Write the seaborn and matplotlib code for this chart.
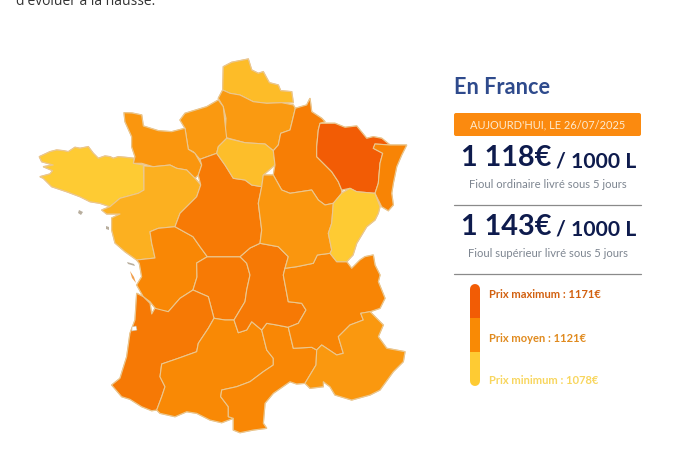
import matplotlib
matplotlib.use("Agg")
import matplotlib.pyplot as plt
import seaborn as sns
from matplotlib.colors import LinearSegmentedColormap, Normalize
from matplotlib.patches import FancyBboxPatch

# prix estimes par region (couleur de la carte)
prix_min, prix_moyen, prix_max = 1078, 1121, 1171
regions = {
    "Nord": 1088, "Picardie": 1110, "Haute-Normandie": 1111, "Basse-Normandie": 1113,
    "Bretagne": 1078, "Pays de la Loire": 1096, "Poitou-Charentes": 1124, "Limousin": 1138,
    "Aquitaine": 1140, "Midi-Pyrenees": 1122, "Languedoc": 1124, "Auvergne": 1140,
    "Rhone-Alpes": 1126, "PACA": 1112, "Centre": 1138, "Ile-de-France": 1087,
    "Champagne": 1134, "Lorraine": 1171, "Alsace": 1128, "Bourgogne": 1113, "Franche-Comte": 1078,
}

contours = {
    "Nord": [(222.7,90),(223.3,66.7),(231.7,62.3),(248.3,59),(251.7,70),(258.3,73.3),(263.3,71.7),(269.3,82.7),(278.3,85),(280.7,90.7),(291.7,91.7),(293.3,102.7),(281.7,102.7),(266.7,103.3),(253.3,101.7),(240,95),(230,93.3)],
    "Picardie": [(222.7,90),(230,93.3),(240,95),(253.3,101.7),(266.7,103.3),(281.7,102.7),(293.3,105),(295.3,108.3),(291.7,123.3),(290,130),(280.7,133.3),(278.3,145),(273.3,150.7),(265,144),(245,142.7),(225,137.3),(226,118.3),(223.3,106.7),(218.3,98.3)],
    "Haute-Normandie": [(180,120),(185,113.3),(206.7,106.7),(218.3,100),(223.3,106.7),(225,123.3),(226.7,138.3),(218.3,146.7),(216.7,153.3),(200,159.3),(193.3,151.7),(188.3,149.3),(185,128.3)],
    "Basse-Normandie": [(124,112.7),(132,113),(141.7,115),(143.3,126),(158.3,130.7),(171.7,131.7),(185,128.3),(188.3,149.3),(195,153.3),(201.7,165),(198.3,175),(195,178.3),(186.7,170),(176.7,168.3),(170,165),(153.3,166.7),(141.7,163.3),(133.3,163.3),(135,156.7),(131.7,146.7),(131.7,136.7),(125,121.7)],
    "Bretagne": [(39.3,156.7),(50,151.7),(56.7,150),(63.3,150.7),(68.3,151.7),(75,147.3),(80,148.3),(88.3,146.7),(93.3,153.3),(98.3,158.3),(105,156),(110,156.7),(113.3,158.3),(118.3,156.7),(125,157.3),(134,158.3),(133.3,163.3),(143.3,165),(144,190),(138.3,193.3),(120,198.3),(110,206.7),(100,203.3),(90,201.7),(80,196.7),(66.7,191.7),(51.7,186.7),(43.3,178.3),(40,176.7),(50,174),(52.7,170.7),(43.3,166.7),(53.3,165),(41.7,161.7)],
    "Pays de la Loire": [(144,166),(153.3,166.7),(170,165),(176.7,168.3),(186.7,170),(195,178.3),(200.7,185),(196.7,196.7),(180,213.3),(175,226.7),(158.3,228.3),(150,231.7),(151.7,243.3),(153.3,250),(155,258),(136.7,260),(125,251.7),(115,243),(111.7,230),(111.7,218),(120,214),(106.7,214),(101.7,210),(110,206.7),(120,198.3),(138.3,193.3),(144,190)],
    "Poitou-Charentes": [(150,231.7),(158.3,228.3),(175,226.7),(193,236.7),(200,246.7),(207.3,256.7),(196.7,263),(197,277),(193,290),(180,298.3),(168.3,311.7),(156.7,310),(150,301.7),(143.3,296.7),(136.7,285),(141.7,276.7),(139.3,263.3),(136.7,260),(155,258),(153.3,250),(151.7,243.3)],
    "Limousin": [(196.7,263),(207.3,256.7),(240,256.7),(246.7,263.3),(250,275),(246.7,290),(245,301.7),(234,320),(225,320),(214,318.3),(208.3,296.7),(193,290),(197,277)],
    "Aquitaine": [(136.7,293.3),(143.3,296.7),(150,303.3),(151.7,314),(155,308.3),(168.3,311.7),(180,298.3),(193,290),(208.3,296.7),(214,318.3),(208.3,328.3),(198.3,343.3),(196.7,351.7),(178.3,358.3),(161.7,364),(160,376.7),(165,386.7),(161.7,396.7),(156.7,410),(151.7,410.7),(141.7,406.7),(130,399.3),(121.7,396.7),(111.7,385),(120,378.3),(126.7,356.7),(130,333.3),(135,320)],
    "Midi-Pyrenees": [(161.7,364),(178.3,358.3),(196.7,351.7),(198.3,343.3),(208.3,328.3),(214,318.3),(225,320),(234,320),(238.3,332.7),(246.7,330),(251.7,321.7),(261.7,330),(266.7,350),(273.3,358.3),(273.3,365),(263.3,371.7),(250,381.7),(236.7,386.7),(221.7,390),(220.7,396.7),(228.3,406.7),(228.3,416.7),(233.3,418.3),(221.7,422.7),(210,420),(196.7,413.3),(186.7,411.7),(175,416.7),(160,413.3),(156.7,410),(161.7,396.7),(165,386.7),(160,376.7)],
    "Languedoc": [(261.7,330),(266.7,323.3),(276.7,325),(288.3,327.3),(293.3,348.3),(311.7,347.3),(316.7,350),(316,365),(305,383.3),(296.7,384),(290,381.7),(273.3,393.3),(265,403.3),(263.3,423.3),(266.7,428.3),(253.3,430),(240,432.7),(233.3,430),(233.3,418.3),(228.3,416.7),(228.3,406.7),(220.7,396.7),(221.7,390),(236.7,386.7),(250,381.7),(263.3,371.7),(273.3,365),(273.3,358.3),(266.7,350)],
    "Auvergne": [(240,256.7),(250,248),(260,243.3),(278.3,246.7),(288.3,256.7),(285,268.3),(283.3,275),(288.3,301.7),(301.7,303.3),(306,310),(298.3,323.3),(288.3,327.3),(276.7,325),(266.7,323.3),(261.7,330),(251.7,321.7),(246.7,330),(238.3,332.7),(234,320),(245,301.7),(246.7,290),(250,275),(246.7,263.3)],
    "Rhone-Alpes": [(285,268.3),(296.7,266.7),(313.3,263.3),(317.3,255),(330,253.3),(336.7,261.7),(346.7,261.7),(351.7,268.3),(360,260),(365,256.7),(373.3,255),(375,265),(380,275),(378.3,281.7),(385,298.3),(380,308.3),(370,311.7),(360.7,313.3),(363.3,320),(350,325),(338.3,336.7),(343.3,353.3),(336.7,355),(326.7,348.3),(321.7,345),(316.7,350),(311.7,347.3),(293.3,348.3),(288.3,327.3),(298.3,323.3),(306,310),(301.7,303.3),(288.3,301.7),(283.3,275)],
    "PACA": [(316.7,350),(321.7,345),(326.7,348.3),(336.7,355),(343.3,353.3),(338.3,336.7),(350,325),(363.3,320),(360.7,313.3),(370,311.7),(383.3,325),(378.3,336.7),(386.7,348.3),(405,351.7),(403.3,361.7),(393.3,371.7),(380,390),(370,395),(351.7,400),(335,395),(330,386.7),(323.3,381.7),(323.3,386.7),(310,388.3),(305,383.3),(316,365)],
    "Centre": [(200,159.3),(216.7,153.3),(225,165),(233.3,178.3),(245,180),(251.7,185),(261.7,186.7),(258.3,203.3),(261.7,230),(260,243.3),(250,248),(240,256.7),(207.3,256.7),(200,246.7),(193,236.7),(175,226.7),(180,213.3),(196.7,196.7),(200.7,185),(198.3,175),(201.7,165)],
    "Ile-de-France": [(216.7,153.3),(218.3,146.7),(226.7,138.3),(245,142.7),(265,144),(273.3,150.7),(275,165),(263.3,175),(261.7,186.7),(251.7,185),(245,180),(233.3,178.3),(225,165)],
    "Champagne": [(295.3,108.3),(306.7,105),(310,98.3),(311.7,111.7),(321.7,118.3),(325,121.7),(320,123.3),(318.3,130),(316.7,146.7),(316.7,156.7),(325,165),(331.7,171.7),(338.3,181.7),(341.7,190),(341.7,193.3),(333.3,203.3),(325,205),(318.3,200),(311.7,190),(290,193.3),(281.7,190),(273.3,175),(275,165),(273.3,150.7),(278.3,145),(280.7,133.3),(290,130),(291.7,123.3)],
    "Lorraine": [(320,123.3),(335,123.3),(345,127.3),(356.7,126),(366.7,138.3),(373.3,136.7),(381.7,138.3),(390,145),(375,144),(373.3,148.3),(382.7,153.3),(380,163.3),(378.3,183.3),(375,193.3),(356.7,191.7),(350,188.3),(341.7,190),(338.3,181.7),(331.7,171.7),(325,165),(316.7,156.7),(316.7,146.7),(318.3,130)],
    "Alsace": [(375,144),(390,145),(406.7,145),(401.7,155),(396.7,166.7),(393.3,183.3),(391.7,193.3),(393.3,205),(388.3,210.7),(381.7,206.7),(375,193.3),(378.3,183.3),(380,163.3),(382.7,153.3),(373.3,148.3)],
    "Bourgogne": [(261.7,186.7),(263.3,175),(273.3,175),(281.7,190),(290,193.3),(311.7,190),(318.3,200),(325,205),(333.3,203.3),(331.7,223.3),(328.3,233.3),(331.7,250),(330,253.3),(317.3,255),(313.3,263.3),(296.7,266.7),(285,268.3),(288.3,256.7),(278.3,246.7),(260,243.3),(261.7,230),(258.3,203.3)],
    "Franche-Comte": [(333.3,203.3),(341.7,193.3),(350,188.3),(356.7,191.7),(375,193.3),(380,206.7),(378.3,213.3),(375,220),(366.7,226.7),(356.7,243.3),(353,255),(346.7,261.7),(336.7,261.7),(330,253.3),(331.7,250),(328.3,233.3),(331.7,223.3)],
}
iles = [[(79,210),(83,212),(81,215),(78,213)], [(106,226),(109,227),(109,230),(106,229)],
        [(127,262),(134,264),(135,266),(128,264)]]
oleron = [(130,271),(134,277),(136,283),(132,278)]
bassin_arcachon = [(132,327),(136,326),(137,330),(132,331)]

legende_labels = ["Prix maximum : 1171€", "Prix moyen : 1121€", "Prix minimum : 1078€"]
legende_couleurs = ["#F25C05", "#F98A05", "#FECB33"]
legende_textes = ["#D2600F", "#E08A1E", "#F8D65E"]

sns.set_theme(style="white")
plt.rcParams['font.family'] = ['Lato', 'DejaVu Sans']

# echelle a trois couleurs : min / moyen / max
pos_moy = (prix_moyen - prix_min) / (prix_max - prix_min)
cmap = LinearSegmentedColormap.from_list("fioul", [(0, legende_couleurs[2]), (pos_moy, legende_couleurs[1]), (1, legende_couleurs[0])])
norm = Normalize(prix_min, prix_max)

fig = plt.figure(figsize=(6.81, 4.54), dpi=100)
ax = fig.add_axes([0, 0, 1, 1])
ax.set_xlim(0, 681)
ax.set_ylim(454, 0)
ax.axis('off')

# sous-couche : les petits jours entre regions deviennent de la bordure
for nom in regions:
    xs, ys = zip(*contours[nom])
    ax.fill(xs, ys, facecolor="#E9C48C", edgecolor="#E9C48C", linewidth=1.0)
for nom, prix in regions.items():
    xs, ys = zip(*contours[nom])
    ax.fill(xs, ys, facecolor=cmap(norm(prix)), edgecolor="#EBC78F", linewidth=0.8, joinstyle='round')
for ile in iles:
    xs, ys = zip(*ile)
    ax.fill(xs, ys, facecolor="#B8AE9E", edgecolor="none")
xs, ys = zip(*oleron)
ax.fill(xs, ys, facecolor="#F0A050", edgecolor="none")
xs, ys = zip(*bassin_arcachon)
ax.fill(xs, ys, facecolor="white", edgecolor="#C8C0B0", linewidth=0.4)

ax.text(16, 5, "d'évoluer à la hausse.", fontsize=10, color="#333333", family=['Open Sans'], va='baseline')
ax.text(454, 88, "En France", fontsize=15.6, fontweight='bold', color="#2E4A8C", va='center')

ax.add_patch(FancyBboxPatch((454, 113), 187, 23, boxstyle="round,pad=0,rounding_size=2", facecolor="#FB8A0F", edgecolor="none"))
ax.text(547.5, 124.5, "AUJOURD'HUI, LE 26/07/2025", fontsize=7.9, color="#FDEBD0", ha='center', va='center')

navy = "#0E1B4D"
ax.text(461, 158, "1 118€", fontsize=20.8, fontweight='bold', color=navy, va='center')
ax.text(556, 161, "/ 1000 L", fontsize=15.2, fontweight='bold', color=navy, va='center')
ax.text(547.5, 184, "Fioul ordinaire livré sous 5 jours", fontsize=8.1, color="#7D8590", ha='center', va='center')
ax.plot([454, 641], [204.5, 204.5], color="#8A8A8A", lw=0.9)

ax.text(461, 227, "1 143€", fontsize=20.8, fontweight='bold', color=navy, va='center')
ax.text(556, 230, "/ 1000 L", fontsize=15.2, fontweight='bold', color=navy, va='center')
ax.text(547.5, 253.5, "Fioul supérieur livré sous 5 jours", fontsize=8.1, color="#7D8590", ha='center', va='center')
ax.plot([454, 641], [273.5, 273.5], color="#8A8A8A", lw=0.9)

# barre de legende
ax.plot([475, 475], [289, 318], color=legende_couleurs[0], lw=7.2, solid_capstyle='round')
ax.plot([475, 475], [352, 381], color=legende_couleurs[2], lw=7.2, solid_capstyle='round')
ax.plot([475, 475], [318, 352], color=legende_couleurs[1], lw=7.2, solid_capstyle='butt')
for lab, coul, y in zip(legende_labels, legende_textes, [294, 338, 380]):
    ax.text(489, y, lab, fontsize=8.0, fontweight='bold', color=coul, va='center')

fig.savefig("out.png", dpi=100)
